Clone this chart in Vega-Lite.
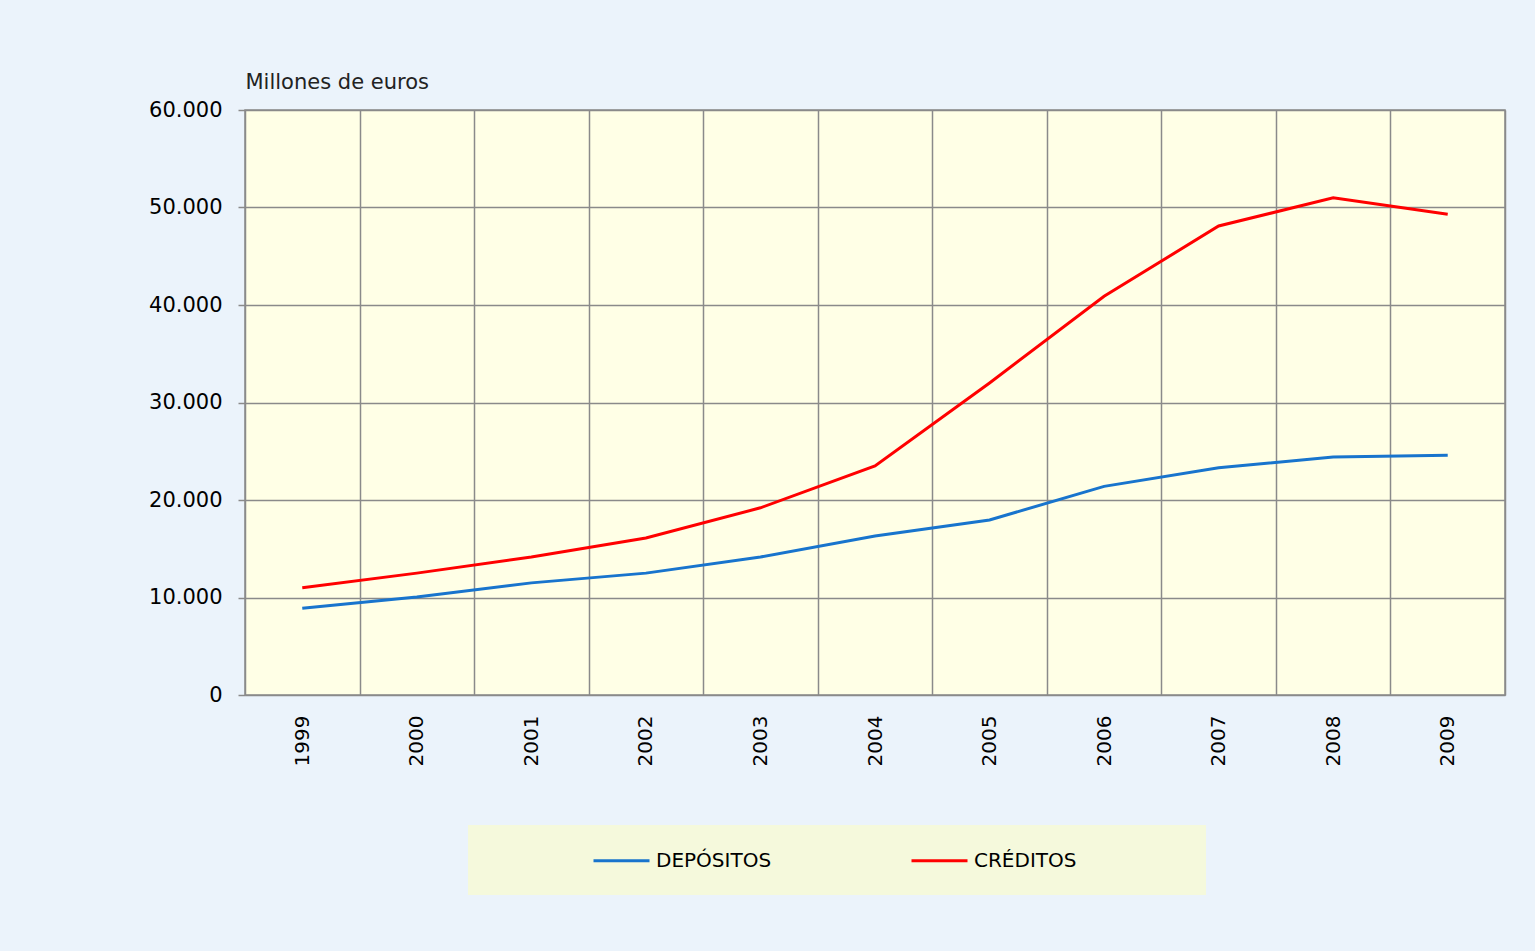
{
  "$schema": "https://vega.github.io/schema/vega-lite/v6.json",
  "autosize": {"type": "none"},
  "padding": {"left": 245, "top": 110, "right": 30, "bottom": 256},
  "width": 1260,
  "height": 585,
  "background": "#EBF3FB",
  "config": {
    "view": {"fill": "#FFFFE6", "stroke": "#8A8A8A", "strokeWidth": 1.5},
    "font": "DejaVu Sans"
  },
  "data": {
    "values": [
      {"anio": "1999", "serie": "DEPÓSITOS", "valor": 8900},
      {"anio": "2000", "serie": "DEPÓSITOS", "valor": 10050},
      {"anio": "2001", "serie": "DEPÓSITOS", "valor": 11500},
      {"anio": "2002", "serie": "DEPÓSITOS", "valor": 12500},
      {"anio": "2003", "serie": "DEPÓSITOS", "valor": 14150},
      {"anio": "2004", "serie": "DEPÓSITOS", "valor": 16300},
      {"anio": "2005", "serie": "DEPÓSITOS", "valor": 17950},
      {"anio": "2006", "serie": "DEPÓSITOS", "valor": 21400},
      {"anio": "2007", "serie": "DEPÓSITOS", "valor": 23300},
      {"anio": "2008", "serie": "DEPÓSITOS", "valor": 24400},
      {"anio": "2009", "serie": "DEPÓSITOS", "valor": 24600},
      {"anio": "1999", "serie": "CRÉDITOS", "valor": 11000},
      {"anio": "2000", "serie": "CRÉDITOS", "valor": 12500},
      {"anio": "2001", "serie": "CRÉDITOS", "valor": 14150},
      {"anio": "2002", "serie": "CRÉDITOS", "valor": 16100},
      {"anio": "2003", "serie": "CRÉDITOS", "valor": 19200},
      {"anio": "2004", "serie": "CRÉDITOS", "valor": 23500},
      {"anio": "2005", "serie": "CRÉDITOS", "valor": 32000},
      {"anio": "2006", "serie": "CRÉDITOS", "valor": 40900},
      {"anio": "2007", "serie": "CRÉDITOS", "valor": 48100},
      {"anio": "2008", "serie": "CRÉDITOS", "valor": 51000},
      {"anio": "2009", "serie": "CRÉDITOS", "valor": 49300}
    ]
  },
  "mark": {"type": "line", "strokeWidth": 3},
  "encoding": {
    "x": {
      "field": "anio",
      "type": "ordinal",
      "scale": {"type": "band", "paddingInner": 0, "paddingOuter": 0},
      "axis": {
        "title": null,
        "labelAngle": -90,
        "labelAlign": "right",
        "labelBaseline": "middle",
        "labelFontSize": 20,
        "labelColor": "#000000",
        "labelPadding": 20,
        "ticks": false,
        "domain": false,
        "tickBand": "extent",
        "grid": true,
        "gridColor": "#8A8A8A",
        "gridWidth": 1.5,
        "gridOpacity": 1
      }
    },
    "y": {
      "field": "valor",
      "type": "quantitative",
      "scale": {"domain": [0, 60000]},
      "axis": {
        "title": "Millones de euros",
        "titleAngle": 0,
        "titleX": 0,
        "titleY": -22,
        "titleAlign": "left",
        "titleBaseline": "alphabetic",
        "titleFontSize": 21,
        "titleFontWeight": "normal",
        "titleColor": "#222222",
        "values": [0, 10000, 20000, 30000, 40000, 50000, 60000],
        "labelExpr": "replace(format(datum.value, ','), ',', '.')",
        "labelFontSize": 21,
        "labelColor": "#000000",
        "labelPadding": 16,
        "tickSize": 7,
        "tickColor": "#8A8A8A",
        "tickWidth": 1.5,
        "domain": false,
        "grid": true,
        "gridColor": "#8A8A8A",
        "gridWidth": 1.5,
        "gridOpacity": 1
      }
    },
    "color": {
      "field": "serie",
      "type": "nominal",
      "scale": {"domain": ["DEPÓSITOS", "CRÉDITOS"], "range": ["#1874CD", "#FF0000"]},
      "legend": {
        "orient": "none",
        "legendX": 223,
        "legendY": 715,
        "direction": "horizontal",
        "title": "\u00a0",
        "titleOrient": "right",
        "titlePadding": 106,
        "fillColor": "#F5F9DC",
        "padding": 24,
        "symbolType": "M-2.8,0H2.8",
        "symbolSize": 400,
        "symbolStrokeWidth": 3,
        "symbolFillColor": "transparent",
        "symbolOffset": 118,
        "labelFontSize": 20,
        "labelColor": "#000000",
        "labelOffset": 23,
        "columnPadding": 38,
        "labelLimit": 300
      }
    }
  }
}
